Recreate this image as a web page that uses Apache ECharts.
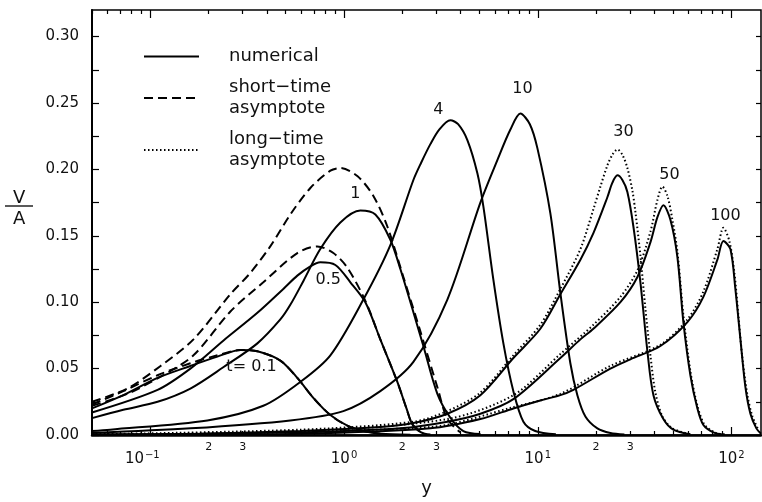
<!DOCTYPE html>
<html>
<head>
<meta charset="utf-8">
<script src="https://cdn.jsdelivr.net/npm/echarts@6/dist/echarts.min.js"></script>
<style>
  html, body { margin: 0; padding: 0; background: #fff; }
  #chart { width: 762px; height: 502px; }
</style>
</head>
<body>
<div id="chart"></div>
<script>
// V/A profiles against y, as [y, V/A] pairs.
// Numerical solutions, one per time t.
const numT01 = [[0.05,0.020],[0.0725,0.030],[0.109,0.043],[0.161,0.052],[0.222,0.059],[0.292,0.064],[0.357,0.063],[0.469,0.056],[0.574,0.043],[0.694,0.028],[0.850,0.015],[1.04,0.007],[1.26,0.003],[1.54,0.001],[2.2,0.0002]];
const numT05 = [[0.05,0.017],[0.109,0.034],[0.161,0.050],[0.238,0.071],[0.357,0.092],[0.486,0.110],[0.574,0.120],[0.670,0.127],[0.754,0.130],[0.902,0.128],[1.078,0.115],[1.288,0.100],[1.539,0.072],[1.884,0.040],[2.10,0.020],[2.253,0.008],[2.5,0.002],[2.79,0.0003]];
const numT1 = [[0.05,0.0127],[0.0725,0.019],[0.109,0.025],[0.161,0.035],[0.238,0.051],[0.357,0.069],[0.469,0.087],[0.528,0.098],[0.617,0.116],[0.754,0.140],[0.957,0.160],[1.214,0.169],[1.451,0.166],[1.734,0.147],[1.953,0.125],[2.253,0.095],[2.567,0.067],[3.032,0.031],[3.538,0.013],[4.13,0.003],[5.06,0.0007]];
const numT4 = [[0.05,0.003],[0.0621,0.004],[0.197,0.011],[0.383,0.022],[0.595,0.040],[0.850,0.060],[1.258,0.102],[1.734,0.143],[2.280,0.192],[2.5,0.205],[2.790,0.219],[3.1,0.230],[3.538,0.237],[3.88,0.234],[4.331,0.222],[4.878,0.197],[5.240,0.172],[5.899,0.117],[6.645,0.069],[7.482,0.033],[8.43,0.010],[9.7,0.003],[12.4,0.0005]];
const numT10 = [[0.05,0.0015],[0.161,0.005],[0.528,0.011],[0.992,0.018],[1.539,0.033],[2.280,0.055],[3.415,0.102],[5.055,0.175],[6.186,0.207],[7.222,0.230],[8.134,0.242],[9.1,0.234],[9.953,0.216],[11.61,0.167],[13.08,0.107],[14.73,0.054],[16.01,0.030],[17.61,0.014],[20.31,0.005],[23.7,0.0015],[28,0.0003]];
const numT30 = [[0.05,0.0003],[0.181,0.001],[0.595,0.003],[1.539,0.006],[2.280,0.009],[3.415,0.016],[5.055,0.030],[7.482,0.058],[10.31,0.080],[13.08,0.106],[16.60,0.132],[19.37,0.152],[22.87,0.179],[24.28,0.190],[25.76,0.1955],[27.34,0.192],[29.01,0.183],[31.16,0.157],[33.87,0.115],[36.81,0.063],[39.54,0.030],[44.5,0.012],[50.1,0.004],[61.35,0.0005]];
const numT50 = [[0.05,0.0002],[0.595,0.002],[1.953,0.005],[3.415,0.010],[5.055,0.016],[7.482,0.027],[13.08,0.058],[16.60,0.072],[19.37,0.080],[26.70,0.100],[32.68,0.119],[38.14,0.145],[41.46,0.164],[44.52,0.173],[48.38,0.162],[52.57,0.134],[56.45,0.085],[61.35,0.045],[66.68,0.020],[71.59,0.0075],[80.64,0.002],[92,0.0003]];
const numT100 = [[0.05,0.0001],[0.595,0.001],[2.790,0.005],[5.055,0.012],[7.482,0.020],[10.31,0.026],[13.08,0.030],[15.27,0.034],[23.70,0.050],[30.07,0.057],[42.96,0.067],[59.20,0.085],[71.59,0.104],[84.56,0.132],[90.82,0.146],[98.7,0.140],[104.7,0.110],[111.2,0.072],[118.0,0.036],[125.2,0.016],[134.4,0.005],[142,0.001]];

// Short-time asymptote for the early times.
const shortT01 = [[0.05,0.023],[0.0725,0.033],[0.109,0.045],[0.161,0.054],[0.222,0.060],[0.292,0.064],[0.357,0.063],[0.469,0.056],[0.574,0.043],[0.694,0.028],[0.850,0.015],[1.04,0.007],[1.26,0.003],[1.54,0.001]];
const shortT05 = [[0.05,0.022],[0.0761,0.031],[0.113,0.044],[0.167,0.060],[0.259,0.093],[0.383,0.115],[0.574,0.137],[0.728,0.142],[0.881,0.137],[1.04,0.126],[1.288,0.101],[1.539,0.072],[1.884,0.040],[2.10,0.020],[2.253,0.008],[2.5,0.002]];
const shortT1 = [[0.05,0.025],[0.0761,0.035],[0.113,0.052],[0.167,0.072],[0.259,0.106],[0.328,0.122],[0.416,0.142],[0.528,0.166],[0.670,0.186],[0.850,0.199],[0.957,0.201],[1.171,0.195],[1.417,0.180],[1.673,0.157],[2.024,0.119],[2.477,0.078],[3.032,0.036],[3.415,0.012],[3.985,0.002]];

// Long-time asymptote for the late times.
const longT30 = [[0.05,0.0005],[0.595,0.004],[2.28,0.010],[3.415,0.018],[5.055,0.032],[7.482,0.060],[10.31,0.083],[13.08,0.110],[16.60,0.140],[19.37,0.170],[21.05,0.187],[22.87,0.203],[24.28,0.211],[25.76,0.215],[27.34,0.211],[29.01,0.201],[30.79,0.184],[31.91,0.168],[33.87,0.135],[35.94,0.095],[38.14,0.060],[40.47,0.032],[43.99,0.014],[49.54,0.005],[61.35,0.0005]];
const longT50 = [[0.05,0.0003],[0.595,0.003],[3.415,0.012],[7.482,0.030],[13.08,0.061],[19.37,0.083],[26.70,0.104],[32.68,0.124],[38.14,0.153],[41.46,0.177],[43.99,0.187],[46.69,0.180],[49.54,0.162],[52.57,0.138],[56.45,0.090],[61.35,0.048],[66.68,0.022],[72.45,0.008],[81.6,0.002],[92,0.0003]];
const longT100 = [[0.05,0.0002],[2.79,0.006],[7.482,0.021],[13.08,0.031],[23.70,0.052],[42.96,0.068],[59.20,0.087],[71.59,0.108],[84.56,0.140],[90.82,0.156],[97.5,0.146],[103.5,0.122],[108.5,0.090],[113.8,0.058],[120.8,0.030],[128.2,0.014],[137.7,0.004]];

const curveLabels = ['t= 0.1', '0.5', '1', '4', '10', '30', '50', '100'];
const yTickLabels = [0, 0.05, 0.10, 0.15, 0.20, 0.25, 0.30];
const xMin = 0.05, xMax = 142, vMax = 0.32;

const FONT = 'DejaVu Sans';
const INK = '#111';
const NUM = 'numerical';
const SHORT = 'short−time asymptote';
const LONG = 'long−time asymptote';
const legendText = { [NUM]: 'numerical', [SHORT]: 'short−time\nasymptote', [LONG]: 'long−time\nasymptote' };

// pixel nudges of each time label away from its curve's peak
const labelOffsets = [[11, 17], [8, 17], [-5, -17], [-12, -10], [2, -25], [6, -44], [6, -30], [2, -25]];

const numerical = [numT01, numT05, numT1, numT4, numT10, numT30, numT50, numT100];
const shortTime = [shortT01, shortT05, shortT1];
const longTime = [longT30, longT50, longT100];

function peakOf(pts) {
  let best = pts[0];
  pts.forEach(p => { if (p[1] > best[1]) best = p; });
  return best;
}

const SMOOTH = 0.3;
const series = [];
numerical.forEach((pts, i) => {
  series.push({
    name: NUM, type: 'line', data: pts, xAxisIndex: 0, yAxisIndex: 0,
    showSymbol: false, symbol: 'none', smooth: SMOOTH,
    lineStyle: { color: '#000', width: 2 }, itemStyle: { color: '#000' },
    z: 3, silent: true,
    markPoint: {
      symbol: 'circle', symbolSize: 0, silent: true,
      data: [{
        coord: peakOf(pts),
        label: {
          show: true, position: 'inside', formatter: curveLabels[i], offset: labelOffsets[i],
          color: INK, fontSize: 16, fontFamily: FONT
        }
      }]
    }
  });
});
shortTime.forEach(pts => {
  series.push({
    name: SHORT, type: 'line', data: pts, xAxisIndex: 0, yAxisIndex: 0,
    showSymbol: false, symbol: 'none', smooth: SMOOTH,
    lineStyle: { color: '#000', width: 2, type: [9, 5] }, itemStyle: { color: '#000' },
    z: 2, silent: true
  });
});
longTime.forEach(pts => {
  series.push({
    name: LONG, type: 'line', data: pts, xAxisIndex: 0, yAxisIndex: 0,
    showSymbol: false, symbol: 'none', smooth: SMOOTH,
    lineStyle: { color: '#000', width: 2, type: [1.5, 2.5] }, itemStyle: { color: '#000' },
    z: 2, silent: true
  });
});

// decade and sub-decade tick positions (log10 of y)
const decadeTicks = [];
const subTicks = [];
const subLabelled = [];
for (let e = -2; e <= 2; e++) {
  const d = Math.pow(10, e);
  if (d >= xMin && d <= xMax) decadeTicks.push(e);
  for (let k = 2; k <= 9; k++) {
    const v = k * d;
    if (v > xMin * 0.999 && v <= xMax) {
      subTicks.push(Math.log10(v));
      if (k <= 3) subLabelled.push(Math.log10(v));
    }
  }
}
const lmin = Math.log10(xMin), lmax = Math.log10(xMax);

function tickAxis(position, ticks, len, labels) {
  return {
    type: 'value', min: lmin, max: lmax, position: position, gridIndex: 0,
    axisLine: { show: false, onZero: false }, splitLine: { show: false },
    axisTick: { show: true, inside: true, length: len, customValues: ticks, lineStyle: { color: '#000', width: 1.2 } },
    axisLabel: labels ? labels : { show: false }
  };
}

const majorLabels = {
  show: true, customValues: decadeTicks, margin: 15, color: INK, fontFamily: FONT,
  formatter: v => {
    const e = Math.round(v);
    const sup = e < 0 ? '−' + (-e) : String(e);
    return '{b|10}{s|' + sup + '}' + (e < 0 ? '{g|}' : '');
  },
  rich: {
    b: { fontSize: 15, fontFamily: FONT, color: INK },
    s: { fontSize: 10, fontFamily: FONT, color: INK, padding: [0, 0, 9, 1] },
    g: { width: 16 }
  }
};
const minorLabels = {
  show: true, customValues: subLabelled, margin: 7, color: INK, fontFamily: FONT, fontSize: 11,
  formatter: v => String(Math.round(Math.pow(10, v - Math.floor(v + 1e-9))))
};

const yTicks = [];
for (let i = 0; i <= 12; i++) yTicks.push(+(i * 0.025).toFixed(3));

const option = {
  backgroundColor: '#fff',
  animation: false,
  grid: { left: 92, right: 1, top: 10, bottom: 65, show: true, borderColor: '#000', borderWidth: 1.5 },
  legend: {
    orient: 'vertical', left: 138, top: 41, itemWidth: 55, itemHeight: 12, itemGap: 10,
    selectedMode: false, data: [NUM, SHORT, LONG],
    formatter: n => legendText[n],
    itemStyle: { opacity: 0 },
    textStyle: { fontSize: 18, lineHeight: 21, color: INK, fontFamily: FONT, padding: [0, 0, 0, 25] }
  },
  xAxis: [
    {
      type: 'log', logBase: 10, min: xMin, max: xMax, position: 'bottom',
      axisLine: { show: true, onZero: false, lineStyle: { color: '#000', width: 2.5 } },
      axisTick: { show: false }, axisLabel: { show: false }, splitLine: { show: false },
      minorTick: { show: false }
    },
    Object.assign(tickAxis('bottom', decadeTicks, 8, majorLabels), {
      name: 'y', nameLocation: 'middle', nameGap: 44,
      nameTextStyle: { fontSize: 18, color: INK, fontFamily: FONT }
    }),
    tickAxis('bottom', subTicks, 4, minorLabels),
    tickAxis('top', decadeTicks, 8, null),
    tickAxis('top', subTicks, 4, null)
  ],
  yAxis: [
    {
      type: 'value', min: 0, max: vMax, position: 'left',
      axisLine: { show: true, onZero: false, lineStyle: { color: '#000', width: 2 } },
      axisTick: { show: true, inside: true, length: 7, customValues: yTicks, lineStyle: { color: '#000', width: 1.2 } },
      axisLabel: {
        customValues: yTickLabels, margin: 13, color: INK, fontSize: 15, fontFamily: FONT,
        formatter: v => v.toFixed(2)
      },
      splitLine: { show: false }
    },
    {
      type: 'value', min: 0, max: vMax, position: 'right',
      axisLine: { show: false, onZero: false },
      axisTick: { show: true, inside: true, length: 5, customValues: yTicks, lineStyle: { color: '#000', width: 1.2 } },
      axisLabel: { show: false }, splitLine: { show: false }
    }
  ],
  graphic: [
    { type: 'text', left: 13, top: 189, style: { text: 'V', fontSize: 18, fontFamily: FONT, fill: INK } },
    { type: 'line', shape: { x1: 5, y1: 206, x2: 33, y2: 206 }, style: { stroke: '#000', lineWidth: 1.3 } },
    { type: 'text', left: 13, top: 210, style: { text: 'A', fontSize: 18, fontFamily: FONT, fill: INK } }
  ],
  series: series
};

const chart = echarts.init(document.getElementById('chart'), null, { renderer: 'canvas' });
chart.setOption(option);
</script>
</body>
</html>
